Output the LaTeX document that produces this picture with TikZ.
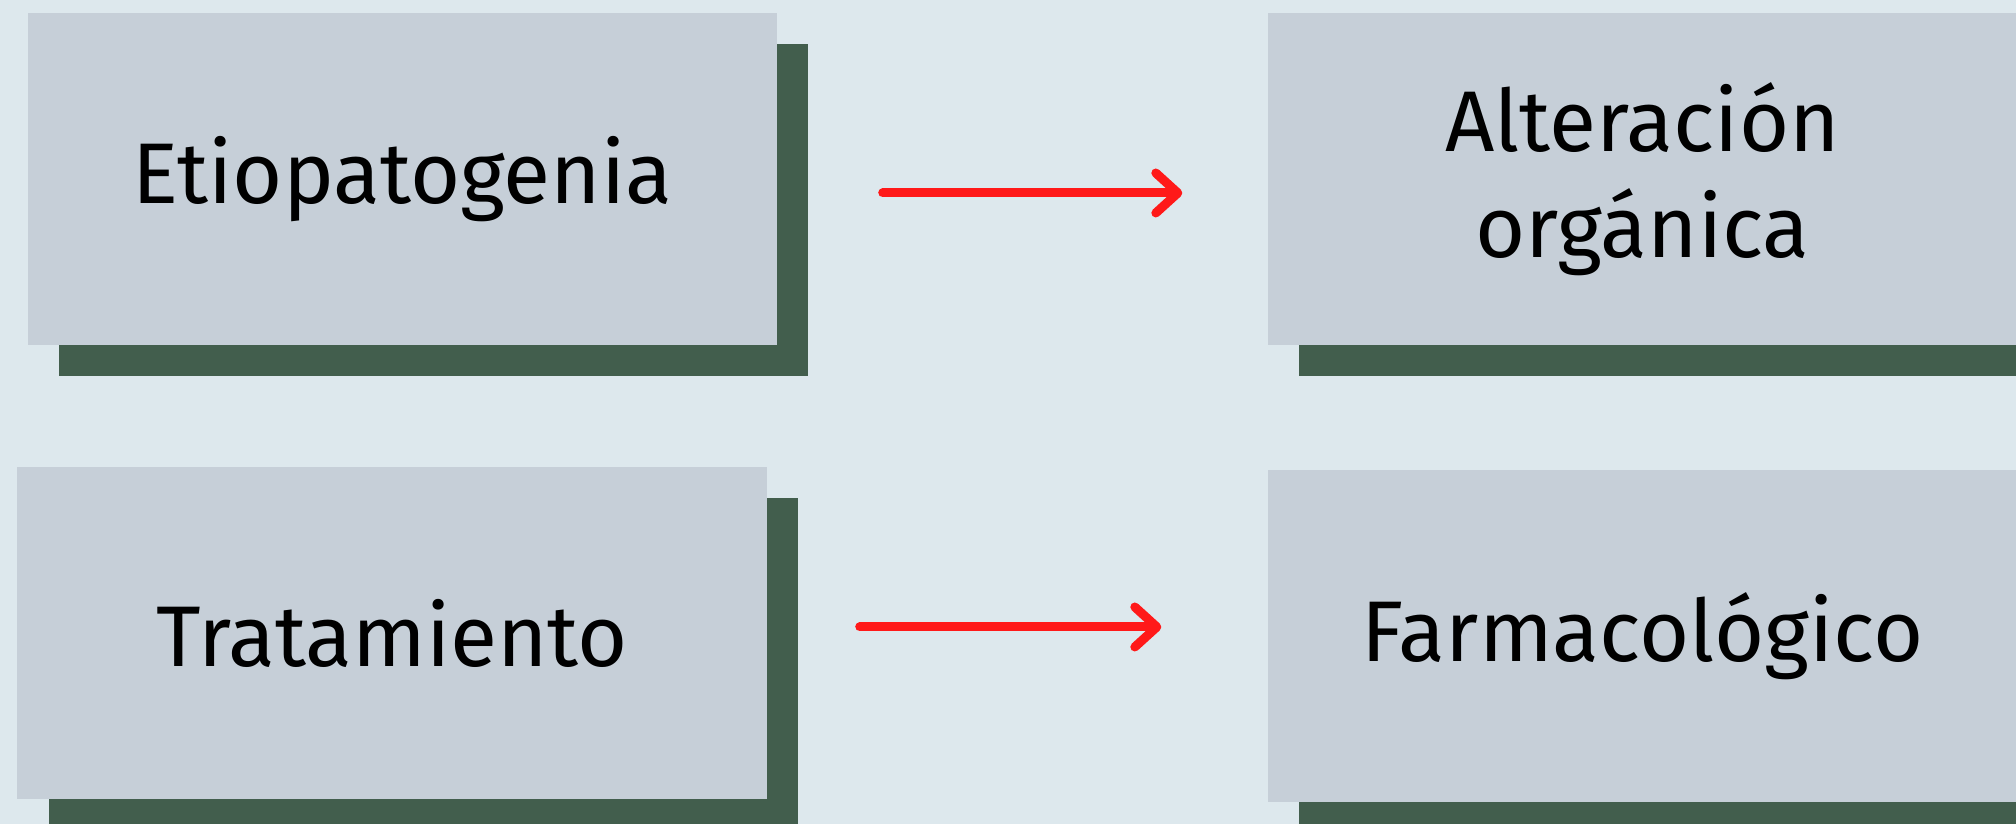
\documentclass[tikz,border=0pt]{standalone}
\usepackage{xcolor}
\usepackage{tikz}
\usepackage{fontspec}
\setmainfont{Fira Sans}
\usetikzlibrary{arrows.meta, positioning, shadows}
\definecolor{paleblue}{RGB}{221, 232, 237}
\definecolor{boxgrey}{RGB}{198, 207, 216}
\definecolor{shadegreen}{RGB}{66, 94, 77}
\definecolor{arrowred}{RGB}{255, 25, 25}

\begin{document}
\begin{tikzpicture}[
    box/.style={rectangle, fill=boxgrey, minimum width=7.49cm, minimum height=3.32cm, align=center,
        font=\fontsize{24.5}{30}\selectfont,
        drop shadow={shadow xshift=0.31cm, shadow yshift=-0.31cm, fill=shadegreen, opacity=1}},
    arrow/.style={-{Straight Barb[round, length=0.22cm, width=0.4cm]}, line width=0.09cm, line cap=round, draw=arrowred}
]
    \path[use as bounding box] (0, 0) rectangle (20.16, 8.24);
    \clip (0, 0) rectangle (20.16, 8.24);
    \fill[paleblue] (0, 0) rectangle (20.16, 8.24);

    % Top row
    \node[box] (etio) at (4.025, 6.45) {Etiopatogenia};
    \node[box] (alter) at (16.425, 6.45) {Alteración\\orgánica};
    \draw[arrow] ([shift={(1.05, -0.14)}]etio.east) -- ([shift={(-0.85, -0.14)}]alter.west);

    % Bottom row
    \node[box] (trat) at (3.92, 1.905) {Tratamiento};
    \node[box] (farma) at (16.425, 1.875) {Farmacológico};
    \draw[arrow] ([shift={(0.925, 0.065)}]trat.east) -- ([shift={(-1.06, 0.095)}]farma.west);
\end{tikzpicture}
\end{document}
